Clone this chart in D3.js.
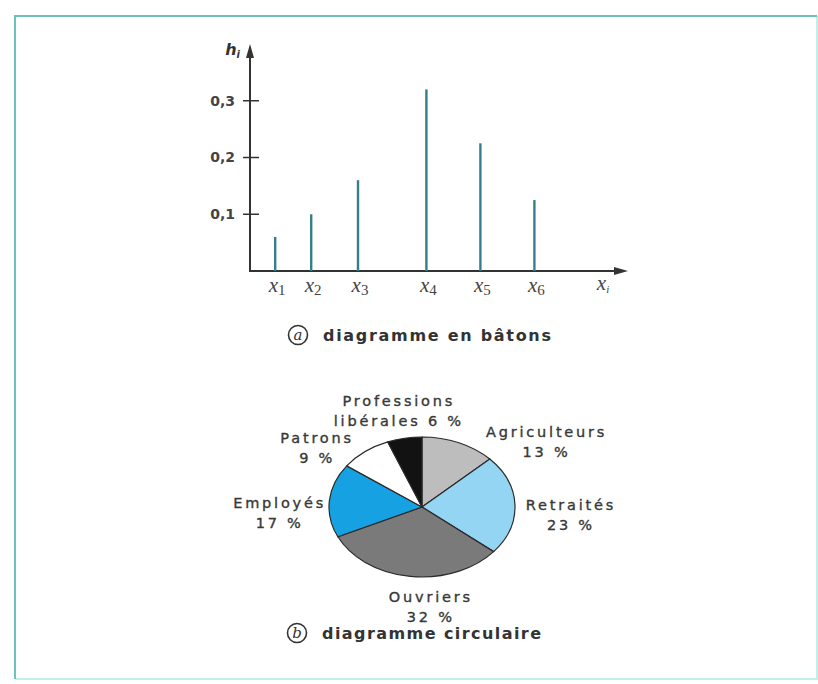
<!DOCTYPE html>
<html>
<head>
<meta charset="utf-8">
<script src="https://cdn.jsdelivr.net/npm/d3@7"></script>
<style>
  body { margin: 0; background: #fff; }
  text { font-family: "DejaVu Sans", sans-serif; }
</style>
</head>
<body>
<div id="chart"></div>
<script>
// diagramme en bâtons
const barIndex = ["1", "2", "3", "4", "5", "6"];
const barX = [0.7, 1.7, 3.0, 4.9, 6.4, 7.9];
const barValues = [0.06, 0.10, 0.16, 0.32, 0.225, 0.125];
const yTicks = [0.1, 0.2, 0.3];
const yTickLabels = ["0,1", "0,2", "0,3"];

// diagramme circulaire
const pieCategories = ["Agriculteurs", "Retraités", "Ouvriers", "Employés", "Patrons", "Professions libérales"];
const pieValues = [13, 23, 32, 17, 9, 6];
const pieLabelLines = [
  ["Agriculteurs", "13 %"],
  ["Retraités", "23 %"],
  ["Ouvriers", "32 %"],
  ["Employés", "17 %"],
  ["Patrons", "9 %"],
  ["Professions", "libérales 6 %"]
];
const pieColors = ["#bdbdbd", "#94d5f3", "#7a7a7a", "#16a2e2", "#ffffff", "#121212"];

const W = 818, H = 684;

const svg = d3.select("#chart")
              .append("svg")
              .attr("width", W)
              .attr("height", H);

// cadre
svg.append("path")
   .attr("d", "M15,679H817V16")
   .attr("fill", "none")
   .attr("stroke", "#c4eeea")
   .attr("stroke-width", 2);
svg.append("path")
   .attr("d", "M15,679V16H817")
   .attr("fill", "none")
   .attr("stroke", "#6cc3bb")
   .attr("stroke-width", 2);

// ---------- bâtons ----------
const x = d3.scaleLinear().domain([0, 10.5]).range([250, 628]);
const y = d3.scaleLinear().domain([0, 0.4]).range([271, 44]);

const axisColor = "#333";
const bars = svg.append("g");

bars.append("line")
    .attr("x1", x(0)).attr("x2", x(10.3))
    .attr("y1", y(0)).attr("y2", y(0))
    .attr("stroke", axisColor).attr("stroke-width", 2);
bars.append("path")
    .attr("d", `M${x(10.5)},${y(0)}l-14,-4v8z`)
    .attr("fill", axisColor);

bars.append("line")
    .attr("x1", x(0)).attr("x2", x(0))
    .attr("y1", y(0) + 1).attr("y2", y(0.38))
    .attr("stroke", axisColor).attr("stroke-width", 2);
bars.append("path")
    .attr("d", `M${x(0)},${y(0.4)}l-4,14h8z`)
    .attr("fill", axisColor);

bars.selectAll(".tick")
    .data(yTicks)
    .enter()
    .append("line")
    .attr("x1", x(0) - 7).attr("x2", x(0) + 9)
    .attr("y1", d => y(d)).attr("y2", d => y(d))
    .attr("stroke", axisColor).attr("stroke-width", 1.5);

bars.selectAll(".tickLabel")
    .data(yTicks)
    .enter()
    .append("text")
    .attr("x", x(0) - 15)
    .attr("y", d => y(d))
    .attr("dy", "0.35em")
    .attr("text-anchor", "end")
    .attr("font-size", 14)
    .attr("font-weight", "bold")
    .attr("fill", "#444")
    .text((d, i) => yTickLabels[i]);

const hLabel = bars.append("text")
    .attr("x", x(0) - 10)
    .attr("y", 55)
    .attr("text-anchor", "end")
    .attr("fill", "#333")
    .style("font-style", "italic")
    .attr("font-weight", "bold")
    .attr("font-size", 16);
hLabel.append("tspan").text("h");
hLabel.append("tspan").attr("font-size", 10).attr("dy", 3).text("i");

bars.selectAll(".baton")
    .data(barValues)
    .enter()
    .append("line")
    .attr("x1", (d, i) => x(barX[i])).attr("x2", (d, i) => x(barX[i]))
    .attr("y1", y(0)).attr("y2", d => y(d))
    .attr("stroke", "#367f8a")
    .attr("stroke-width", 2.4);

const xl = bars.selectAll(".xLabel")
    .data(barIndex)
    .enter()
    .append("text")
    .attr("x", (d, i) => x(barX[i]) + 2)
    .attr("y", 292)
    .attr("text-anchor", "middle")
    .attr("fill", "#444")
    .style("font-family", "'Liberation Serif', serif");
xl.append("tspan").style("font-style", "italic").attr("font-size", 21).text("x");
xl.append("tspan").attr("font-size", 15).attr("dy", 3).text(d => d);

const xiLabel = bars.append("text")
    .attr("x", 603).attr("y", 290)
    .attr("text-anchor", "middle")
    .attr("fill", "#444")
    .style("font-family", "'Liberation Serif', serif")
    .style("font-style", "italic");
xiLabel.append("tspan").attr("font-size", 21).text("x");
xiLabel.append("tspan").attr("font-size", 11).attr("dy", 3).text("i");

// légendes (a) et (b)
function caption(cx, cy, letter, label, len) {
  svg.append("circle")
     .attr("cx", cx).attr("cy", cy).attr("r", 9.5)
     .attr("fill", "none").attr("stroke", "#333").attr("stroke-width", 1.6);
  svg.append("text")
     .attr("x", cx).attr("y", cy).attr("dy", "0.33em")
     .attr("text-anchor", "middle")
     .attr("font-size", 15)
     .attr("fill", "#333")
     .style("font-family", "'DejaVu Serif', serif")
     .style("font-style", "italic")
     .text(letter);
  svg.append("text")
     .attr("x", cx + 25).attr("y", cy).attr("dy", "0.35em")
     .attr("font-size", 16)
     .attr("font-weight", "bold")
     .attr("fill", "#333")
     .attr("textLength", len)
     .attr("lengthAdjust", "spacing")
     .text(label);
}
caption(298, 335, "a", "diagramme en bâtons", 228);
caption(297, 633, "b", "diagramme circulaire", 219);

// ---------- camembert ----------
const cx = 422, cy = 507, rx = 93, ry = 70;
const pie = d3.pie().sort(null).value(d => d);
const arcs = pie(pieValues);
const arc = d3.arc().innerRadius(0).outerRadius(rx);

svg.append("g")
   .attr("transform", `translate(${cx},${cy}) scale(1,${ry / rx})`)
   .selectAll("path")
   .data(arcs)
   .enter()
   .append("path")
   .attr("d", arc)
   .attr("fill", (d, i) => pieColors[i])
   .attr("stroke", "#2b2b2b")
   .attr("stroke-width", 1.2)
   .attr("vector-effect", "non-scaling-stroke");

// position des étiquettes : direction de l'angle médian + petit décalage
const labelRx = 145, labelRy = 100;
const labelNudge = [[67, 27], [4, 11], [27, 1], [2, 15], [-16, 20], [4, 2]];

const labels = svg.append("g")
   .selectAll("text")
   .data(arcs)
   .enter()
   .append("text")
   .attr("text-anchor", "middle")
   .attr("font-size", 14.5)
   .attr("letter-spacing", 2.8)
   .attr("fill", "#383838")
   .attr("stroke", "#383838")
   .attr("stroke-width", 0.35)
   .attr("transform", (d, i) => {
     const a = (d.startAngle + d.endAngle) / 2;
     const lx = cx + Math.sin(a) * labelRx + labelNudge[i][0];
     const ly = cy - Math.cos(a) * labelRy + labelNudge[i][1];
     return `translate(${lx},${ly})`;
   });

labels.selectAll("tspan")
   .data((d, i) => pieLabelLines[i])
   .enter()
   .append("tspan")
   .attr("x", 0)
   .attr("y", (d, j) => j === 0 ? -5 : 15)
   .text(d => d);
</script>
</body>
</html>
